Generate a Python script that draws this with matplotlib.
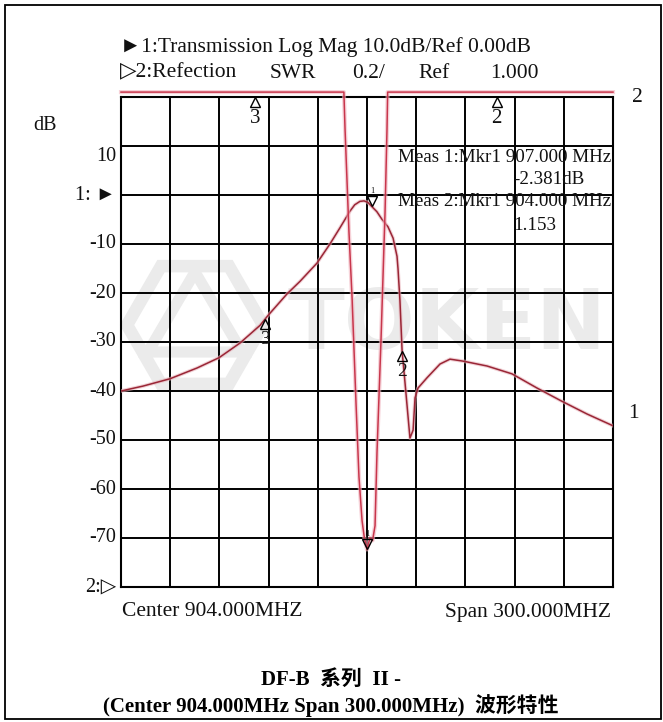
import numpy as np
import matplotlib
matplotlib.use("Agg")
import matplotlib.pyplot as plt
from matplotlib.patches import Rectangle, RegularPolygon, Polygon
from matplotlib.transforms import offset_copy

W, H, DPI = 663, 722, 100

# Sweep settings
center_mhz = 904.0
span_mhz = 300.0
f_start = center_mhz - span_mhz / 2
f_stop = center_mhz + span_mhz / 2

# Channel 1: transmission, log magnitude (dB)
s21_freq = [754.0, 767.4, 783.9, 800.4, 813.8, 826.6, 838.8, 843.6, 855.2, 863.2,
            873.5, 881.4, 887.5, 893.6, 896.5, 899.7, 902.2, 904.5, 907.0, 910.0,
            913.0, 916.8, 919.9, 922.3, 922.9, 924.1, 925.4, 927.2, 930.2, 932.1,
            933.3, 935.1, 940.6, 948.5, 954.6, 962.5, 977.2, 992.4, 1007.7, 1022.3,
            1038.2, 1054.0]
s21_db = [-40.0, -39.0, -37.5, -35.3, -33.2, -30.2, -26.6, -24.6, -20.2, -17.6,
          -13.9, -10.0, -6.7, -3.3, -2.0, -1.3, -1.2, -1.5, -2.381, -3.4,
          -4.9, -6.5, -8.8, -12.5, -15.0, -21.6, -31.8, -38.4, -49.6, -48.0,
          -41.4, -39.4, -37.3, -34.5, -33.5, -33.9, -34.9, -36.5, -39.4, -42.0,
          -44.7, -47.1]

# Channel 2: reflection, SWR (3.02 = pinned above the top of the scale)
swr_freq = [754.0, 820.0, 870.0, 889.9, 890.6, 893.0, 894.9, 897.3, 899.1, 901.0,
            902.4, 904.0, 905.8, 907.4, 908.9, 910.1, 912.5, 915.0, 916.2, 916.6,
            960.0, 1054.0]
swr_val = [3.02, 3.02, 3.02, 3.02, 2.87, 2.45, 2.18, 1.75, 1.45, 1.27,
           1.20, 1.153, 1.20, 1.19, 1.25, 1.55, 2.00, 2.53, 2.87, 3.02,
           3.02, 3.02]

# Markers: (label, frequency MHz)
ch1_markers = [("3", 842.0), ("2", 925.4)]
ch1_active = ("1", 907.0, -2.381)
ch2_markers_top = [("3", 836.0), ("2", 983.0)]
ch2_active = ("1", 904.0, 1.153)

db_ticks = [10, -10, -20, -30, -40, -50, -60, -70]

SERIF = ['Liberation Serif', 'DejaVu Sans']
TXT = '#111111'
TRACE1 = '#9a2636'
TRACE2 = '#c8364c'

fig = plt.figure(figsize=(W / DPI, H / DPI), dpi=DPI)

# background layer: frame and faint logo watermark
bg = fig.add_axes([0, 0, 1, 1], zorder=0)
bg.set_xlim(0, W)
bg.set_ylim(H, 0)
bg.axis('off')
bg.add_patch(Rectangle((5, 5), 656, 714, fill=False, lw=1.3, ec='black'))
wm = '#ebebeb'
bg.add_patch(RegularPolygon((195, 325), numVertices=6, radius=68,
                            orientation=np.pi / 6, fill=False, ec=wm, lw=9))
bg.add_patch(Polygon([(195, 272), (242, 352), (148, 352)], closed=True,
                     fill=False, ec=wm, lw=8))
bg.text(447, 325, 'TOKEN', fontsize=60, fontweight='bold', color=wm,
        ha='center', va='center', family='DejaVu Sans')

# measurement grid
gx0, gx1, gy0, gy1 = 121, 613, 97, 587
ax = fig.add_axes([gx0 / W, 1 - gy1 / H, (gx1 - gx0) / W, (gy1 - gy0) / H], zorder=1)
ax.set_facecolor('none')
ax.set_xlim(f_start, f_stop)
ax.set_ylim(-80, 20)
ax.set_xticks(np.linspace(f_start, f_stop, 11))
ax.set_yticks(np.arange(-80, 21, 10))
ax.grid(True, color='black', lw=1.4)
ax.tick_params(length=0, labelbottom=False, labelleft=False)
for sp in ax.spines.values():
    sp.set_linewidth(1.5)

ax2 = ax.twinx()
ax2.set_zorder(2)
ax2.set_ylim(1.0, 3.0)
ax2.set_axis_off()

# traces
ax.plot(s21_freq, s21_db, color='#e8b4bc', lw=2.6, alpha=0.6, zorder=3)
ax.plot(s21_freq, s21_db, color=TRACE1, lw=1.1, zorder=4)
ax2.plot(swr_freq, swr_val, color='#f0b4bf', lw=3.0, alpha=0.6, clip_on=False, zorder=3)
ax2.plot(swr_freq, swr_val, color=TRACE2, lw=1.1, clip_on=False, zorder=4)

ms = 7.5
def tri_below(axis, x, y, label, fs=14):
    tr = offset_copy(axis.transData, fig=fig, x=0, y=-ms / 2, units='points')
    axis.plot([x], [y], marker='^', ms=ms, mfc='none', mec='black', mew=1.0,
              transform=tr, clip_on=False, zorder=6)
    axis.annotate(label, (x, y), xytext=(0, -ms - 1), textcoords='offset points',
                  ha='center', va='top', fontsize=fs, family=SERIF, color=TXT,
                  annotation_clip=False, zorder=6)

def tri_above(axis, x, y, label):
    tr = offset_copy(axis.transData, fig=fig, x=0, y=ms / 2, units='points')
    axis.plot([x], [y], marker='v', ms=ms, mfc='none', mec='black', mew=1.0,
              transform=tr, clip_on=False, zorder=6)
    axis.annotate(label, (x, y), xytext=(0, ms + 1), textcoords='offset points',
                  ha='center', va='bottom', fontsize=6, family=SERIF, color=TXT,
                  annotation_clip=False, zorder=6)

for lab, f in ch1_markers:
    tri_below(ax, f, np.interp(f, s21_freq, s21_db), lab)
tri_above(ax, ch1_active[1], ch1_active[2], ch1_active[0])
tri_above(ax2, ch2_active[1], ch2_active[2], ch2_active[0])
for lab, f in ch2_markers_top:
    tri_below(ax2, f, 3.0, lab, fs=15)

# dB scale labels
ytr = ax.get_yaxis_transform()
for v in db_ticks:
    dy = -2.2 if v == 10 else 0
    ax.text(-0.01, v + dy, f'{v}', transform=ytr, ha='right', va='center',
            fontsize=14.5, family=SERIF, color=TXT)
ax.text(-0.01, 0, '1: ►', transform=ytr, ha='right', va='center',
        fontsize=14.5, family=SERIF, color=TXT)
ax.text(-0.01, -80, '2:▷', transform=ytr, ha='right', va='center',
        fontsize=14.5, family=SERIF, color=TXT)

# annotation layer
fg = fig.add_axes([0, 0, 1, 1], zorder=5)
fg.set_xlim(0, W)
fg.set_ylim(H, 0)
fg.axis('off')
fg.patch.set_alpha(0)

def t(x, y, s, ha='left', fs=14, **kw):
    fg.text(x, y, s, ha=ha, va='center', fontsize=fs, family=SERIF, color=TXT, **kw)

t(120, 47, '►1:Transmission Log Mag 10.0dB/Ref 0.00dB', fs=15.5)
t(120, 73, '▷2:Refection', fs=15.5)
t(270, 73, 'SWR', fs=15.5)
t(352, 73, '0.2/', fs=15.5)
t(418, 73, 'Ref', fs=15.5)
t(490, 73, '1.000', fs=15.5)
t(45, 125, 'dB', ha='center', fs=14.5)
t(632, 97, '2', fs=15.5)
t(628, 413, '1', fs=15.5)

t(398, 158, 'Meas 1:Mkr1 907.000 MHz', fs=13.7)
t(584, 180, '-2.381dB', ha='right', fs=13.7)
t(398, 202, 'Meas 2:Mkr1 904.000 MHz', fs=13.7)
t(513, 225, '1.153', fs=13.7)

t(122, 612, 'Center 904.000MHZ', fs=15.5)
t(611, 612, 'Span 300.000MHZ', ha='right', fs=15.5)

TITLE = ['Liberation Serif', 'Noto Sans CJK TC']
fg.text(331, 680, 'DF-B  系列  II -', ha='center', va='center', fontsize=15,
        fontweight='bold', family=TITLE, color='black')
fg.text(331, 706, '(Center 904.000MHz Span 300.000MHz)  波形特性', ha='center',
        va='center', fontsize=15, fontweight='bold', family=TITLE, color='black')

fig.savefig('out.png', dpi=DPI)
